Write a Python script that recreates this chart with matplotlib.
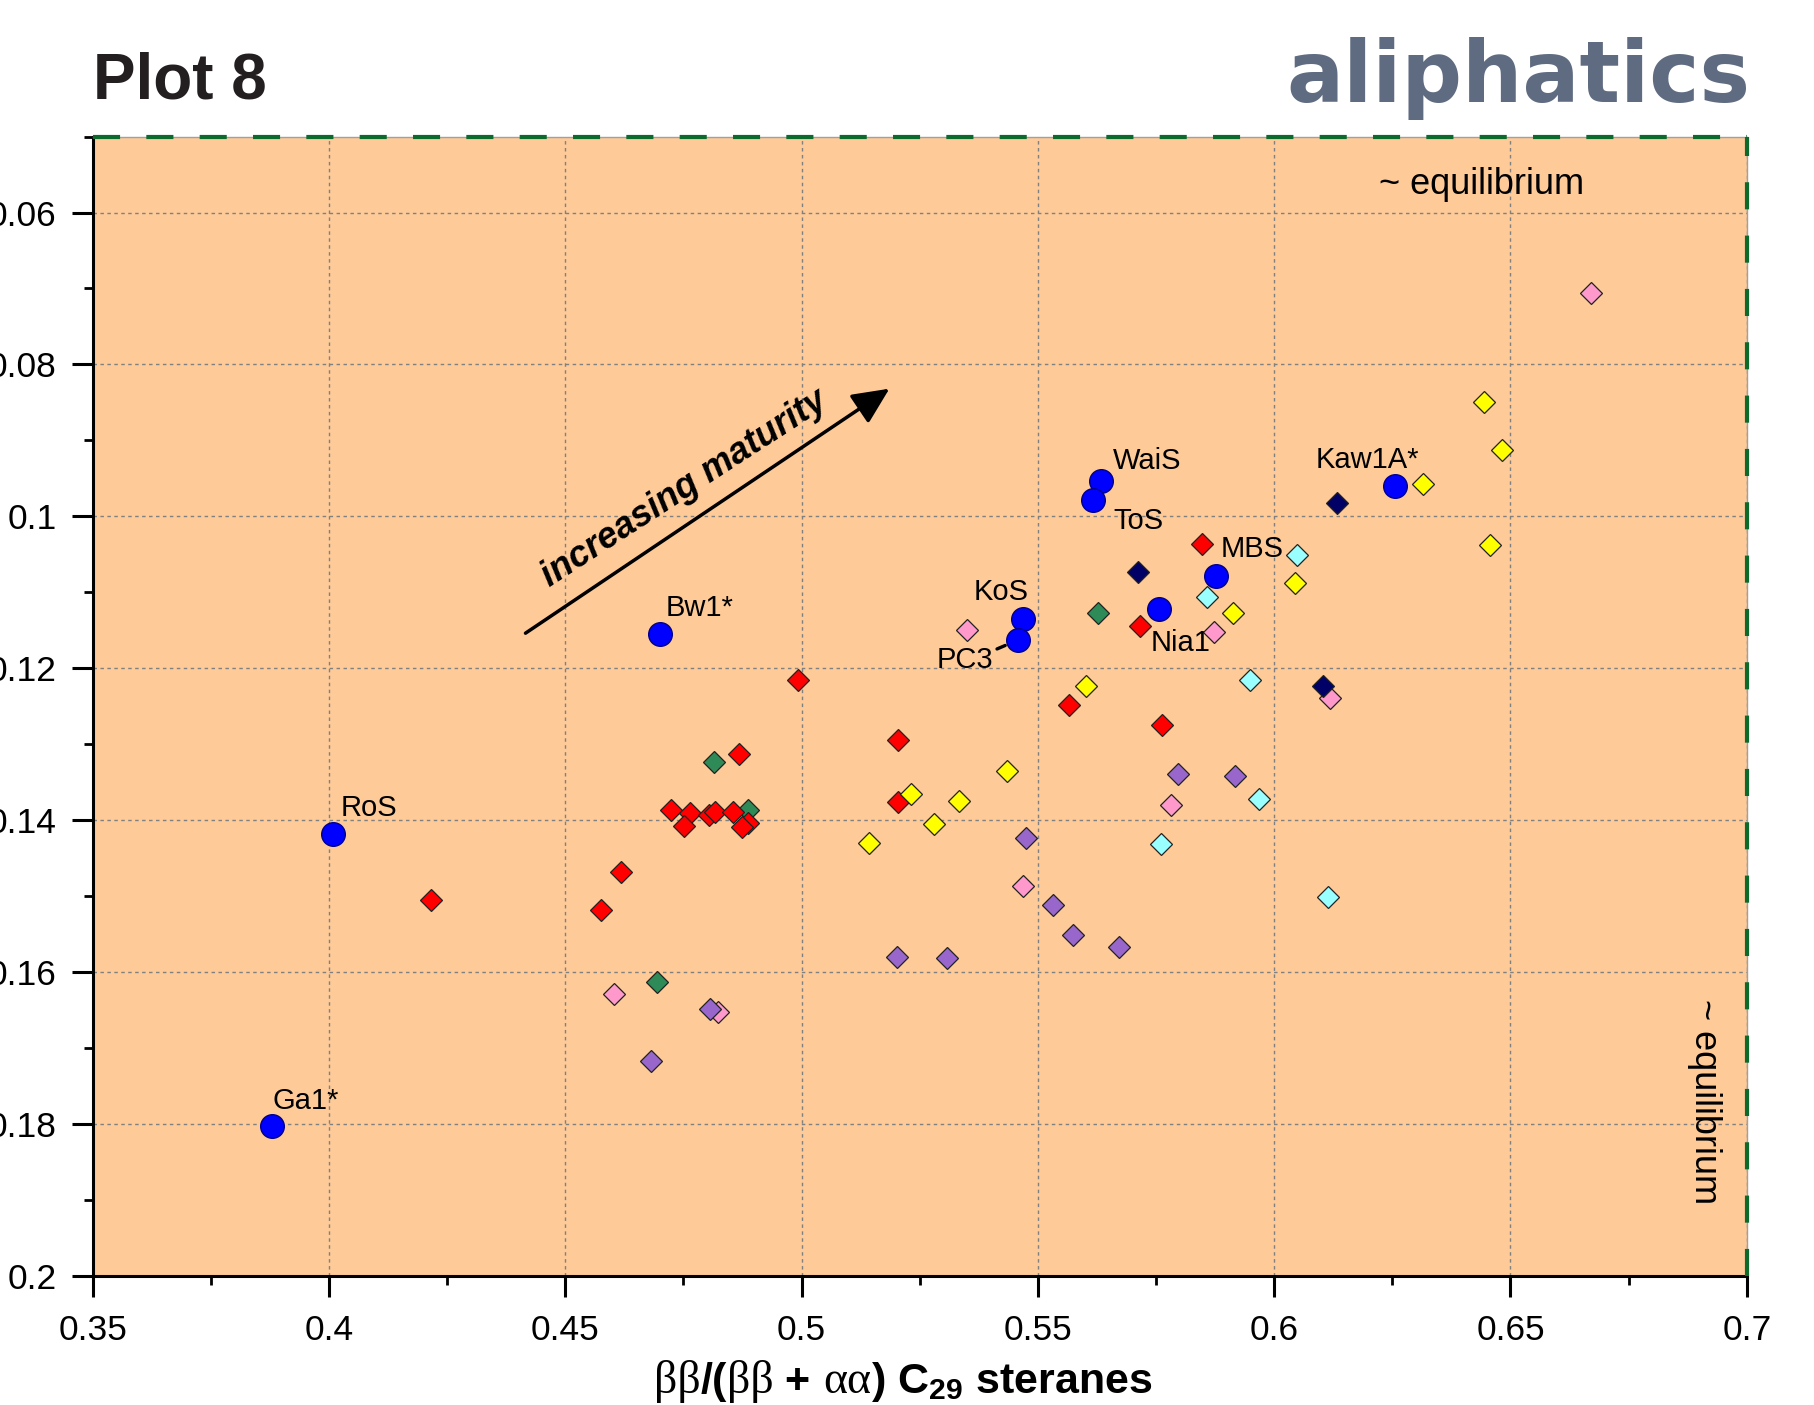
import matplotlib
matplotlib.use("Agg")
import matplotlib.pyplot as plt
from matplotlib.ticker import MultipleLocator, FixedLocator, FixedFormatter
from matplotlib.offsetbox import TextArea, HPacker, DrawingArea, AnnotationBbox

plt.rcParams['font.family'] = ['Liberation Sans', 'DejaVu Sans']
plt.rcParams['mathtext.fontset'] = 'custom'
plt.rcParams['mathtext.rm'] = 'Liberation Sans:bold'
plt.rcParams['mathtext.it'] = 'Liberation Sans:bold'
plt.rcParams['mathtext.bf'] = 'Liberation Sans:bold'

# ---------------- data ----------------
x_ticks = [0.35, 0.4, 0.45, 0.5, 0.55, 0.6, 0.65, 0.7]
x_tick_labels = ['0.35', '0.4', '0.45', '0.5', '0.55', '0.6', '0.65', '0.7']
y_ticks = [0.06, 0.08, 0.1, 0.12, 0.14, 0.16, 0.18, 0.2]
y_tick_labels = ['0.06', '0.08', '0.1', '0.12', '0.14', '0.16', '0.18', '0.2']

blue_names = ['Ga1*', 'RoS', 'Bw1*', 'KoS', 'PC3', 'WaiS', 'ToS', 'Nia1', 'MBS', 'Kaw1A*']
blue_x = [0.388, 0.4009, 0.470, 0.5468, 0.5458, 0.5634, 0.5616, 0.5756, 0.5876, 0.6256]
blue_y = [0.1803, 0.1418, 0.1155, 0.1135, 0.1163, 0.0954, 0.0979, 0.1122, 0.1079, 0.0960]

red_x = [0.4216, 0.4576, 0.4618, 0.4724, 0.4764, 0.4751, 0.4805, 0.4817, 0.4856, 0.4886,
         0.4874, 0.4868, 0.4992, 0.5205, 0.5205, 0.5566, 0.5762, 0.5716, 0.5848]
red_y = [0.1505, 0.1518, 0.1469, 0.1387, 0.1391, 0.1408, 0.1393, 0.1390, 0.1389, 0.1404,
         0.1409, 0.1313, 0.1215, 0.1295, 0.1376, 0.1249, 0.1275, 0.1144, 0.1037]

green_x = [0.4815, 0.4886, 0.4694, 0.5627]
green_y = [0.1324, 0.1387, 0.1614, 0.1127]

pink_x = [0.4604, 0.4823, 0.5351, 0.5468, 0.5782, 0.5873, 0.6118, 0.6670]
pink_y = [0.1629, 0.1653, 0.1150, 0.1487, 0.1380, 0.1152, 0.1239, 0.0706]

purple_x = [0.4807, 0.4682, 0.5201, 0.5307, 0.5474, 0.5532, 0.5575, 0.5671, 0.5797, 0.5917]
purple_y = [0.1649, 0.1717, 0.1580, 0.1582, 0.1424, 0.1512, 0.1552, 0.1567, 0.1339, 0.1342]

yellow_x = [0.5143, 0.5232, 0.5281, 0.5333, 0.5434, 0.5602, 0.5913, 0.6044, 0.6315, 0.6443,
            0.6482, 0.6456]
yellow_y = [0.1430, 0.1366, 0.1405, 0.1375, 0.1336, 0.1224, 0.1128, 0.1088, 0.0957, 0.0849,
            0.0913, 0.1038]

cyan_x = [0.5761, 0.5858, 0.5948, 0.5967, 0.6049, 0.6113]
cyan_y = [0.1432, 0.1106, 0.1215, 0.1372, 0.1051, 0.1502]

navy_x = [0.5711, 0.6103, 0.6134]
navy_y = [0.1074, 0.1223, 0.0983]

x_limits = (0.35, 0.7)
y_limits = (0.2, 0.05)

# ---------------- figure ----------------
fig = plt.figure(figsize=(18.15, 14.05), dpi=100)
ax = fig.add_axes([0.051, 0.0921, 0.9114, 0.8107])
ax.set_facecolor('#FDCA98')
ax.set_xlim(*x_limits)
ax.set_ylim(*y_limits)

ax.xaxis.set_major_locator(FixedLocator(x_ticks))
ax.xaxis.set_major_formatter(FixedFormatter(x_tick_labels))
ax.yaxis.set_major_locator(FixedLocator(y_ticks))
ax.yaxis.set_major_formatter(FixedFormatter(y_tick_labels))
ax.xaxis.set_minor_locator(MultipleLocator(0.025))
ax.yaxis.set_minor_locator(MultipleLocator(0.01))

ax.grid(True, which='major', color='#808080', lw=1.0, linestyle=(0, (2.5, 2.5)))
ax.set_axisbelow(True)

ax.tick_params(which='major', direction='out', length=15, width=2.2, labelsize=25.5,
               top=False, right=False)
ax.tick_params(which='minor', direction='out', length=6.5, width=2.0, top=False, right=False)
ax.tick_params(axis='x', which='major', pad=13)
ax.tick_params(axis='y', which='major', pad=11)

for s in ['left', 'bottom']:
    ax.spines[s].set_linewidth(2.2)
    ax.spines[s].set_color('black')
for s in ['top', 'right']:
    ax.spines[s].set_linewidth(1.0)
    ax.spines[s].set_color('#A0A0A0')

# equilibrium dashed lines
ax.axhline(y_limits[1], color='#0B6A2C', lw=3, linestyle=(0, (6.5, 6.3)), clip_on=False, zorder=6)
ax.axvline(x_limits[1], color='#0B6A2C', lw=3, linestyle=(0, (6.5, 6.3)), clip_on=False, zorder=6)

# diamonds
dkw = dict(linestyle='none', marker='D', ms=11.3, mec='#222222', mew=0.9, zorder=3)
ax.plot(green_x, green_y, mfc='#2E8B57', **dkw)
ax.plot(red_x, red_y, mfc='#FF0000', **dkw)
ax.plot(pink_x, pink_y, mfc='#FF99CC', **dkw)
ax.plot(purple_x, purple_y, mfc='#9966CC', **dkw)
ax.plot(yellow_x, yellow_y, mfc='#FFFF00', **dkw)
ax.plot(cyan_x, cyan_y, mfc='#99FFFF', **dkw)
ax.plot(navy_x, navy_y, mfc='#000066', **dkw)

# blue circles
ax.plot(blue_x, blue_y, linestyle='none', marker='o', ms=17, mfc='#0000FF',
        mec='#00008B', mew=1.0, zorder=4)

# labels for blue points (offsets in points, alignment)
label_layout = {
    'Ga1*': ((0, 12.5), 'left'),
    'RoS': ((5.5, 12.5), 'left'),
    'Bw1*': ((4.5, 13), 'left'),
    'KoS': ((4, 13.5), 'right'),
    'PC3': ((-18, -20.5), 'right'),
    'WaiS': ((8.8, 9), 'left'),
    'ToS': ((15, -21), 'left'),
    'Nia1': ((-5.8, -30), 'left'),
    'MBS': ((3.7, 13.5), 'left'),
    'Kaw1A*': ((17, 13), 'right'),
}
for name, bx, by in zip(blue_names, blue_x, blue_y):
    off, ha = label_layout[name]
    if name == 'PC3':
        ax.annotate(name, (bx, by), xytext=off, textcoords='offset points', ha=ha,
                    va='baseline', fontsize=21, zorder=7,
                    arrowprops=dict(arrowstyle='-', lw=2.4, color='black',
                                    shrinkA=1, shrinkB=10, relpos=(1.0, 0.85)))
    else:
        ax.annotate(name, (bx, by), xytext=off, textcoords='offset points', ha=ha,
                    va='baseline', fontsize=21, zorder=7)

# increasing maturity arrow
arrow_start = (0.4416, 0.1154)
arrow_end = (0.5186, 0.0832)
ax.annotate('', xy=arrow_end, xytext=arrow_start,
            arrowprops=dict(arrowstyle='-|>,head_length=0.75,head_width=0.35',
                            mutation_scale=30, lw=2.5, color='black',
                            shrinkA=0, shrinkB=0), zorder=7)
ax.text(0.4752, 0.0964, 'increasing maturity', rotation=33, rotation_mode='anchor',
        ha='center', va='center', fontsize=26, fontweight='bold', fontstyle='italic', zorder=7)

# equilibrium texts
ax.text(0.6222, 0.0576, '~ equilibrium', ha='left', va='baseline', fontsize=26, zorder=7)
ax.text(0.691, 0.1771, '~ equilibrium', rotation=-90, ha='center', va='center',
        fontsize=26, zorder=7)

# title and header
fig.text(0.051, 0.930, 'Plot 8', fontsize=46, fontweight='bold', color='#231F20',
         ha='left', va='baseline')
fig.text(0.9642, 0.9275, 'aliphatics', fontsize=61, fontweight='bold', family='DejaVu Sans',
         color='#5F6B80', ha='right', va='baseline')

# x-axis label assembled from parts (greek in serif, rest bold sans)
bold = dict(fontsize=31, fontweight='bold', family=['Liberation Sans', 'DejaVu Sans'], color='black')
greek = dict(fontsize=33, family=['Liberation Serif', 'DejaVu Serif'], color='black')
parts = [
    TextArea('ββ', textprops=greek),
    TextArea('/(', textprops=bold),
    TextArea('ββ', textprops=greek),
    TextArea(' +', textprops=bold),
    DrawingArea(9, 1),
    TextArea('αα', textprops=greek),
    TextArea(r') C$_{\mathrm{29}}$ steranes', textprops=bold),
]
pack = HPacker(children=parts, align='baseline', pad=0, sep=0)
ab = AnnotationBbox(pack, (0.4975, 0.0005), xycoords='figure fraction', frameon=False,
                    box_alignment=(0.5, 0.0), pad=0)
fig.add_artist(ab)

fig.savefig('out.png', dpi=100)
